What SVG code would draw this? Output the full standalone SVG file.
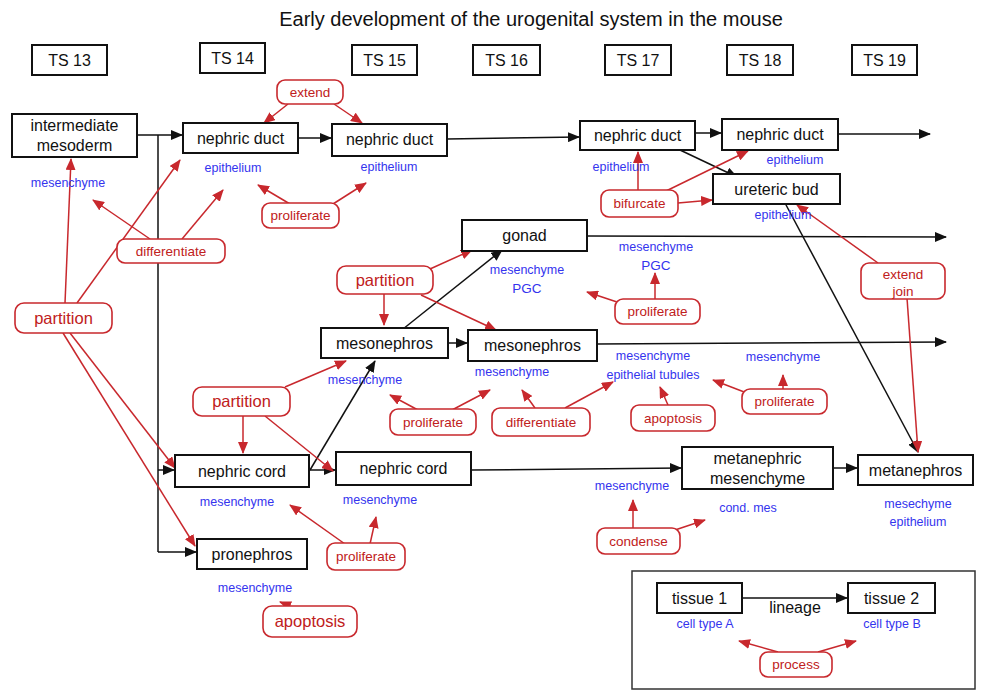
<svg xmlns="http://www.w3.org/2000/svg" width="985" height="690" viewBox="0 0 985 690">
<style>
text{font-family:"Liberation Sans",Arial,sans-serif}
.title{font-size:20px;fill:#111;text-anchor:middle}
.ts rect{fill:#fff;stroke:#111;stroke-width:2}
.ts text{font-size:16px;fill:#111;text-anchor:middle}
.node rect{fill:#fff;stroke:#111;stroke-width:2}
.node text{font-size:16px;fill:#111;text-anchor:middle}
.lbl{font-size:12.5px;fill:#3434ee;text-anchor:middle}
.proc rect{fill:#fff;stroke:#c8282d;stroke-width:1.6}
.proc text{font-size:13.5px;fill:#c02020;text-anchor:middle}
.proc text.big{font-size:16.5px}
.blk{fill:none;stroke:#111;stroke-width:1.5;marker-end:url(#ab)}
.bl{fill:none;stroke:#111;stroke-width:1.5}
.red{fill:none;stroke:#c8282d;stroke-width:1.5;marker-end:url(#ar)}
</style>
<defs>
<marker id="ab" markerUnits="userSpaceOnUse" markerWidth="12" markerHeight="10" refX="11" refY="5" orient="auto"><path d="M0,0 L12,5 L0,10 z" fill="#111"/></marker>
<marker id="ar" markerUnits="userSpaceOnUse" markerWidth="12" markerHeight="10" refX="11" refY="5" orient="auto"><path d="M0,0 L12,5 L0,10 z" fill="#c8282d"/></marker>
</defs>
<rect width="985" height="690" fill="#fff"/>
<text class="title" x="531" y="26">Early development of the urogenital system in the mouse</text>

<g id="ts13" class="ts"><rect x="32" y="45" width="75" height="30"/><text x="69.5" y="66">TS 13</text></g>
<g id="ts14" class="ts"><rect x="200" y="43" width="65" height="30"/><text x="232.5" y="64">TS 14</text></g>
<g id="ts15" class="ts"><rect x="352" y="45" width="65" height="30"/><text x="384.5" y="66">TS 15</text></g>
<g id="ts16" class="ts"><rect x="473" y="45" width="67" height="30"/><text x="506.5" y="66">TS 16</text></g>
<g id="ts17" class="ts"><rect x="605" y="45" width="66" height="30"/><text x="638" y="66">TS 17</text></g>
<g id="ts18" class="ts"><rect x="727" y="45" width="66" height="30"/><text x="760" y="66">TS 18</text></g>
<g id="ts19" class="ts"><rect x="852" y="45" width="65" height="30"/><text x="884.5" y="66">TS 19</text></g>

<g id="connectors">
<path class="blk" d="M137,135 L182,135"/>
<path class="bl" d="M158,135 L158,552"/>
<path class="blk" d="M158,470 L174,470"/>
<path class="blk" d="M158,552 L196,552"/>
<path class="blk" d="M298,138 L331,138"/>
<path class="blk" d="M447,139 L579,137"/>
<path class="blk" d="M695,133 L721,133"/>
<path class="blk" d="M838,134 L930,134"/>
<path class="blk" d="M680,150 L737,177"/>
<path class="blk" d="M785,203 L918,452"/>
<path class="blk" d="M587,236 L946,237"/>
<path class="blk" d="M403,329 L502,250"/>
<path class="blk" d="M448,343 L467,343"/>
<path class="blk" d="M597,344 L946,342"/>
<path class="blk" d="M310,470 L375,361"/>
<path class="blk" d="M309,470 L335,470"/>
<path class="blk" d="M471,470 L681,468"/>
<path class="blk" d="M833,468 L857,468"/>
<path class="blk" d="M742,598 L847,598"/>
<path class="red" d="M65,303 L71,159"/>
<path class="red" d="M77,303 L180,160"/>
<path class="red" d="M70,333 L175,468"/>
<path class="red" d="M63,333 L195,546"/>
<path class="red" d="M150,239 L93,200"/>
<path class="red" d="M182,239 L223,190"/>
<path class="red" d="M288,104 L264,123"/>
<path class="red" d="M334,104 L362,123"/>
<path class="red" d="M290,204 L258,185"/>
<path class="red" d="M333,204 L366,183"/>
<path class="red" d="M638,190 L638,152"/>
<path class="red" d="M664,192 L748,151"/>
<path class="red" d="M678,203 L712,200"/>
<path class="red" d="M430,269 L472,250"/>
<path class="red" d="M384,294 L384,325"/>
<path class="red" d="M421,295 L496,330"/>
<path class="red" d="M655,299 L655,273"/>
<path class="red" d="M620,303 L587,292"/>
<path class="red" d="M878,263 L797,205"/>
<path class="red" d="M907,298 L918,452"/>
<path class="red" d="M285,387 L346,361"/>
<path class="red" d="M243,416 L243,453"/>
<path class="red" d="M265,416 L333,471"/>
<path class="red" d="M418,410 L390,395"/>
<path class="red" d="M452,410 L490,390"/>
<path class="red" d="M535,408 L522,390"/>
<path class="red" d="M565,408 L613,382"/>
<path class="red" d="M668,405 L660,387"/>
<path class="red" d="M783,389 L783,375"/>
<path class="red" d="M752,395 L713,380"/>
<path class="red" d="M345,544 L290,505"/>
<path class="red" d="M370,544 L376,517"/>
<path class="red" d="M292,607 L280,602"/>
<path class="red" d="M633,528 L633,500"/>
<path class="red" d="M675,530 L705,520"/>
<path class="red" d="M778,652 L739,641"/>
<path class="red" d="M818,652 L856,641"/>
</g>

<g id="intermediate-mesoderm" class="node"><rect x="12" y="114" width="125" height="43"/><text x="74.5" y="131">intermediate</text><text x="74.5" y="151">mesoderm</text></g>
<text class="lbl" x="68" y="187">mesenchyme</text>

<g id="nephric-duct-14" class="node"><rect x="183" y="123" width="115" height="30"/><text x="240.5" y="144">nephric duct</text></g>
<text class="lbl" x="233" y="172">epithelium</text>
<g id="nephric-duct-15" class="node"><rect x="332" y="124" width="115" height="32"/><text x="389.5" y="145">nephric duct</text></g>
<text class="lbl" x="389" y="171">epithelium</text>
<g id="nephric-duct-17" class="node"><rect x="580" y="121" width="115" height="29"/><text x="637.5" y="141">nephric duct</text></g>
<text class="lbl" x="621" y="171">epithelium</text>
<g id="nephric-duct-18" class="node"><rect x="722" y="119" width="116" height="31"/><text x="780" y="140">nephric duct</text></g>
<text class="lbl" x="795" y="164">epithelium</text>
<g id="ureteric-bud" class="node"><rect x="713" y="174" width="127" height="30"/><text x="776.5" y="195">ureteric bud</text></g>
<text class="lbl" x="783" y="219">epithelium</text>

<g id="gonad" class="node"><rect x="462" y="220" width="125" height="31"/><text x="524.5" y="241">gonad</text></g>
<text class="lbl" x="527" y="274">mesenchyme</text>
<text class="lbl" x="527" y="293" style="font-size:13.5px">PGC</text>
<text class="lbl" x="656" y="251">mesenchyme</text>
<text class="lbl" x="656" y="270" style="font-size:13.5px">PGC</text>

<g id="mesonephros-15" class="node"><rect x="321" y="328" width="127" height="30"/><text x="384.5" y="349">mesonephros</text></g>
<text class="lbl" x="365" y="384">mesenchyme</text>
<g id="mesonephros-16" class="node"><rect x="468" y="330" width="129" height="31"/><text x="532.5" y="351">mesonephros</text></g>
<text class="lbl" x="512" y="376">mesenchyme</text>
<text class="lbl" x="653" y="360">mesenchyme</text>
<text class="lbl" x="653" y="379">epithelial tubules</text>
<text class="lbl" x="783" y="361">mesenchyme</text>

<g id="nephric-cord-14" class="node"><rect x="175" y="455" width="134" height="32"/><text x="242" y="477">nephric cord</text></g>
<text class="lbl" x="237" y="506">mesenchyme</text>
<g id="nephric-cord-15" class="node"><rect x="336" y="452" width="135" height="33"/><text x="403.5" y="474">nephric cord</text></g>
<text class="lbl" x="380" y="504">mesenchyme</text>
<g id="pronephros" class="node"><rect x="197" y="539" width="110" height="30"/><text x="252" y="560">pronephros</text></g>
<text class="lbl" x="255" y="592">mesenchyme</text>

<g id="metanephric-mesenchyme" class="node"><rect x="682" y="447" width="151" height="42"/><text x="757.5" y="464">metanephric</text><text x="757.5" y="484">mesenchyme</text></g>
<text class="lbl" x="632" y="490">mesenchyme</text>
<text class="lbl" x="748" y="512">cond. mes</text>
<g id="metanephros" class="node"><rect x="858" y="455" width="115" height="30"/><text x="915.5" y="476">metanephros</text></g>
<text class="lbl" x="918" y="508">mesechyme</text>
<text class="lbl" x="918" y="526">epithelium</text>

<g id="p-extend" class="proc"><rect x="277" y="80" width="66" height="24" rx="8"/><text x="310" y="97">extend</text></g>
<g id="p-proliferate-top" class="proc"><rect x="262" y="203" width="77" height="25" rx="8"/><text x="300.5" y="220">proliferate</text></g>
<g id="p-differentiate-left" class="proc"><rect x="117" y="239" width="108" height="24" rx="8"/><text x="171" y="256">differentiate</text></g>
<g id="p-partition-left" class="proc"><rect x="15" y="303" width="97" height="30" rx="9"/><text class="big" x="63.5" y="324">partition</text></g>
<g id="p-bifurcate" class="proc"><rect x="601" y="190" width="77" height="27" rx="8"/><text x="639.5" y="208">bifurcate</text></g>
<g id="p-partition-mid" class="proc"><rect x="337" y="266" width="96" height="28" rx="9"/><text class="big" x="385" y="286">partition</text></g>
<g id="p-proliferate-gonad" class="proc"><rect x="615" y="299" width="85" height="25" rx="8"/><text x="657.5" y="316">proliferate</text></g>
<g id="p-extend-join" class="proc"><rect x="861" y="263" width="84" height="36" rx="8"/><text x="903" y="279">extend</text><text x="903" y="296">join</text></g>
<g id="p-partition-low" class="proc"><rect x="193" y="387" width="97" height="29" rx="9"/><text class="big" x="241.5" y="407">partition</text></g>
<g id="p-proliferate-meso" class="proc"><rect x="390" y="409" width="86" height="26" rx="8"/><text x="433" y="427">proliferate</text></g>
<g id="p-differentiate-meso" class="proc"><rect x="492" y="408" width="98" height="28" rx="8"/><text x="541" y="427">differentiate</text></g>
<g id="p-apoptosis-meso" class="proc"><rect x="631" y="405" width="84" height="26" rx="8"/><text x="673" y="423">apoptosis</text></g>
<g id="p-proliferate-right" class="proc"><rect x="742" y="389" width="85" height="25" rx="8"/><text x="784.5" y="406">proliferate</text></g>
<g id="p-proliferate-cord" class="proc"><rect x="327" y="543" width="78" height="27" rx="8"/><text x="366" y="561">proliferate</text></g>
<g id="p-apoptosis-pro" class="proc"><rect x="263" y="606" width="94" height="31" rx="9"/><text class="big" x="310" y="627">apoptosis</text></g>
<g id="p-condense" class="proc"><rect x="597" y="528" width="83" height="26" rx="8"/><text x="638.5" y="546">condense</text></g>

<g id="legend">
<rect x="632" y="571" width="343" height="118" fill="none" stroke="#333" stroke-width="1.5"/>
<g id="leg-tissue1" class="node"><rect x="657" y="583" width="85" height="30"/><text x="699.5" y="604">tissue 1</text></g>
<g id="leg-tissue2" class="node"><rect x="848" y="583" width="87" height="30"/><text x="891.5" y="604">tissue 2</text></g>
<text x="795" y="613" style="font-size:16px;fill:#111;text-anchor:middle">lineage</text>
<text class="lbl" x="705" y="628">cell type A</text>
<text class="lbl" x="892" y="628">cell type B</text>
<g id="leg-process" class="proc"><rect x="760" y="652" width="72" height="25" rx="8"/><text x="796" y="669">process</text></g>
</g>
</svg>
